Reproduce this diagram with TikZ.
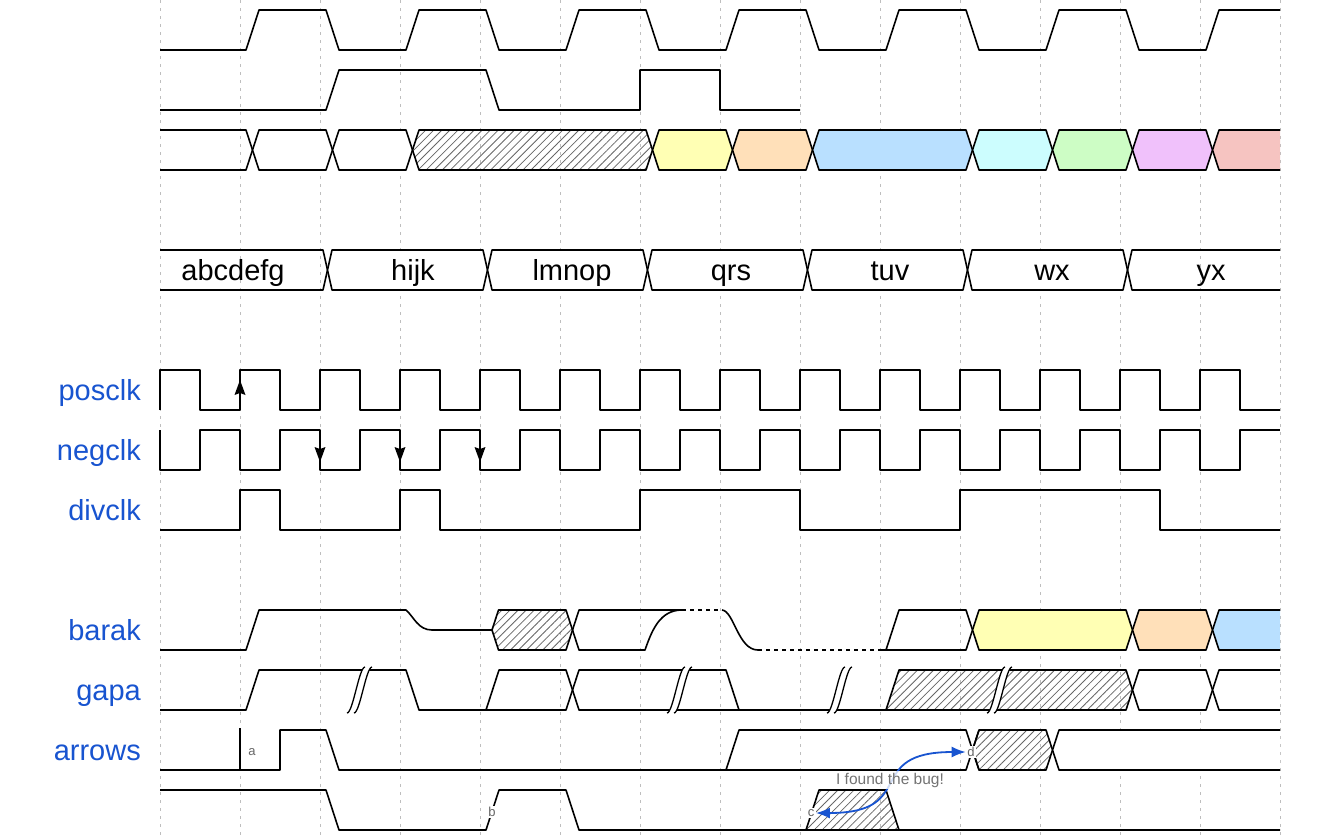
\documentclass[tikz,border=0pt]{standalone}
\usepackage{fontspec}
\setmainfont{Liberation Sans}
\usetikzlibrary{patterns.meta,arrows.meta}
\definecolor{wdblue}{RGB}{24,84,208}
\definecolor{gridgray}{RGB}{190,190,190}
\definecolor{cthree}{HTML}{FFFFB4}
\definecolor{cfour}{HTML}{FFE0B9}
\definecolor{cfive}{HTML}{B9E0FF}
\definecolor{csix}{HTML}{CCFDFE}
\definecolor{cseven}{HTML}{CDFDC5}
\definecolor{ceight}{HTML}{F0C1FB}
\definecolor{cnine}{HTML}{F6C4C1}
\tikzset{
  wline/.style={line width=1.6pt, line join=round},
  gridline/.style={gridgray, line width=1pt, dash pattern=on 3pt off 5pt},
  hatch/.style={pattern={Lines[angle=45,distance=5.7pt,line width=0.8pt]}, pattern color=black!60},
  dotline/.style={dash pattern=on 4pt off 4pt},
  siglabel/.style={anchor=base east, inner sep=0pt, text=wdblue, font=\fontsize{29}{32}\selectfont},
  datatext/.style={anchor=base, inner sep=0pt, font=\fontsize{29}{32}\selectfont},
  nodelabel/.style={fill=white, inner sep=1.5pt, text=black!60, font=\fontsize{13}{14}\selectfont},
  buglabel/.style={fill=white, fill opacity=0.8, text opacity=1, inner xsep=5pt, inner ysep=0pt, minimum height=18pt, text=black!55, font=\fontsize{15.5}{16}\selectfont},
  edgearrow/.style={wdblue, line width=1.8pt, {Latex[length=14pt,width=11pt]}-{Latex[length=14pt,width=11pt]}},
  clkarrow/.style={fill=black}
}
% general data segment: a, b, ytop, style, crossing offsets o1, o2
\newcommand\bseg[6]{\filldraw[wline,#4] ({#1+(#5+#6)/2},{#3+20}) -- ({#1+#6},#3) -- ({#2+#5},#3) -- ({#2+(#5+#6)/2},{#3+20}) -- ({#2+#5},{#3+40}) -- ({#1+#6},{#3+40}) -- cycle;}
\newcommand\hexseg[4]{\bseg{#1}{#2}{#3}{#4}{6}{19}}
% open-right segment starting at crossing a
\newcommand\openseg[3]{\fill[#3] (1280,#2) -- ({#1+19},#2) -- ({#1+12.5},{#2+20}) -- ({#1+19},{#2+40}) -- (1280,{#2+40}) -- cycle;
  \draw[wline] (1280,#2) -- ({#1+19},#2) -- ({#1+12.5},{#2+20}) -- ({#1+19},{#2+40}) -- (1280,{#2+40});}
% gap mark: x centre, y top
\newcommand\gapmark[2]{%
  \fill[white] ({#1-13},{#2+43}) .. controls ({#1-7},{#2+43}) and ({#1-1},{#2-3}) .. ({#1+5},{#2-3}) -- ({#1+12},{#2-3}) .. controls ({#1+6},{#2-3}) and ({#1},{#2+43}) .. ({#1-6},{#2+43}) -- cycle;
  \draw[wline,line width=1.3pt] ({#1-13},{#2+43}) .. controls ({#1-7},{#2+43}) and ({#1-1},{#2-3}) .. ({#1+5},{#2-3});
  \draw[wline,line width=1.3pt] ({#1-6},{#2+43}) .. controls ({#1},{#2+43}) and ({#1+6},{#2-3}) .. ({#1+12},{#2-3});}
\begin{document}
\begin{tikzpicture}[x=1pt,y=-1pt]
\useasboundingbox (0,0) rectangle (1317,838);
\fill[white] (0,0) rectangle (1317,838);
\foreach \g in {160,240,...,1280} \draw[gridline] (\g,0) -- (\g,838);

% ---- row 1
\draw[wline] (160,50) -- (246,50) -- (259,10) -- (326,10) -- (339,50) -- (406,50) -- (419,10) -- (486,10) -- (499,50) -- (566,50) -- (579,10) -- (646,10) -- (659,50) -- (726,50) -- (739,10) -- (806,10) -- (819,50) -- (886,50) -- (899,10) -- (966,10) -- (979,50) -- (1046,50) -- (1059,10) -- (1126,10) -- (1139,50) -- (1206,50) -- (1219,10) -- (1280,10);
% ---- row 2
\draw[wline] (160,110) -- (326,110) -- (339,70) -- (486,70) -- (499,110) -- (640,110) -- (640,70) -- (720,70) -- (720,110) -- (800,110);
% ---- row 3 bus
\draw[wline] (160,130) -- (246,130) -- (252.5,150) -- (246,170) -- (160,170);
\hexseg{240}{320}{130}{fill=white}
\hexseg{320}{400}{130}{fill=white}
\hexseg{400}{640}{130}{hatch}
\hexseg{640}{720}{130}{fill=cthree}
\hexseg{720}{800}{130}{fill=cfour}
\hexseg{800}{960}{130}{fill=cfive}
\hexseg{960}{1040}{130}{fill=csix}
\hexseg{1040}{1120}{130}{fill=cseven}
\hexseg{1120}{1200}{130}{fill=ceight}
\openseg{1200}{130}{cnine}
% ---- row 4 text bus
\draw[wline] (160,250) -- (323,250) -- (327.5,270) -- (323,290) -- (160,290);
\bseg{320}{480}{250}{fill=white}{3}{12}
\bseg{480}{640}{250}{fill=white}{3}{12}
\bseg{640}{800}{250}{fill=white}{3}{12}
\bseg{800}{960}{250}{fill=white}{3}{12}
\bseg{960}{1120}{250}{fill=white}{3}{12}
\draw[wline] (1280,250) -- (1132,250) -- (1127.5,270) -- (1132,290) -- (1280,290);
\node[datatext] (t1) at (233,280) {abcdefg};
\node[datatext] (t2) at (413,280) {hijk};
\node[datatext] (t3) at (572,280) {lmnop};
\node[datatext] (t4) at (731,280) {qrs};
\node[datatext] (t5) at (890,280) {tuv};
\node[datatext] (t6) at (1052,280) {wx};
\node[datatext] (t7) at (1211,280) {yx};

% ---- labels
\node[siglabel] (lpos) at (141,400) {posclk};
\node[siglabel] (lneg) at (141,460) {negclk};
\node[siglabel] (ldiv) at (141,520) {divclk};
\node[siglabel] (lbar) at (141,640) {barak};
\node[siglabel] (lgap) at (141,700) {gapa};
\node[siglabel] (larr) at (141,760) {arrows};

% ---- posclk
\draw[wline] (160,410) foreach \k in {160,240,...,1200} { -- (\k,370) -- (\k+40,370) -- (\k+40,410) -- (\k+80,410) };
\fill[clkarrow] (240,380) -- (245.5,395) -- (240,393) -- (234.5,395) -- cycle;
% ---- negclk
\draw[wline] (160,430) foreach \k in {160,240,...,1200} { -- (\k,470) -- (\k+40,470) -- (\k+40,430) -- (\k+80,430) };
\foreach \x in {320,400,480} \fill[clkarrow] (\x,462) -- (\x+5.5,447) -- (\x,449) -- (\x-5.5,447) -- cycle;
% ---- divclk
\draw[wline] (160,530) -- (240,530) -- (240,490) -- (280,490) -- (280,530) -- (400,530) -- (400,490) -- (440,490) -- (440,530) -- (640,530) -- (640,490) -- (800,490) -- (800,530) -- (960,530) -- (960,490) -- (1160,490) -- (1160,530) -- (1280,530);

% ---- barak
\draw[wline] (160,650) -- (246,650) -- (259,610) -- (406,610) .. controls (414,617) and (418,630) .. (432,630) -- (492,630);
\filldraw[wline,hatch] (492,630) -- (498.5,610) -- (566,610) -- (572.5,630) -- (566,650) -- (498.5,650) -- cycle;
\draw[wline] (572.5,630) -- (579,610) -- (682,610);
\draw[wline] (572.5,630) -- (579,650) -- (645,650) .. controls (652,630) and (660,610) .. (682,610);
\draw[wline,dotline] (682,610) -- (722,610);
\draw[wline] (722,610) .. controls (734,611) and (738,650) .. (758,650);
\draw[wline,dotline] (758,650) -- (880,650);
\draw[wline] (880,650) -- (886,650) -- (899,610) -- (966,610) -- (972.5,630) -- (966,650) -- (886,650);
\hexseg{960}{1120}{610}{fill=cthree}
\hexseg{1120}{1200}{610}{fill=cfour}
\openseg{1200}{610}{cfive}

% ---- gapa
\draw[wline] (160,710) -- (246,710) -- (259,670) -- (406,670) -- (419,710) -- (566,710) -- (579,670) -- (726,670) -- (739,710) -- (886,710);
\draw[wline] (486,710) -- (499,670) -- (566,670) -- (579,710) -- (739,710);
\filldraw[wline,hatch] (886,710) -- (899,670) -- (1126,670) -- (1132.5,690) -- (1126,710) -- cycle;
\hexseg{1120}{1200}{670}{fill=white}
\openseg{1200}{670}{white}
\gapmark{360}{670}
\gapmark{680}{670}
\gapmark{840}{670}
\gapmark{1000}{670}

% ---- arrows
\draw[wline] (160,770) -- (280,770) -- (280,730) -- (326,730) -- (339,770) -- (966,770) -- (979,730);
\draw[wline] (240,770) -- (240,728);
\draw[wline] (726,770) -- (739,730) -- (966,730) -- (979,770);
\hexseg{960}{1040}{730}{hatch}
\openseg{1040}{730}{white}

% ---- last row
\draw[wline] (160,790) -- (326,790) -- (339,830) -- (486,830) -- (499,790) -- (566,790) -- (579,830) -- (1280,830);
\filldraw[wline,hatch] (806,830) -- (819,790) -- (886,790) -- (899,830) -- cycle;

% ---- node labels and edge
\node[nodelabel] (na) at (252,752) {a};
\node[nodelabel] (nb) at (492,812) {b};
\node[nodelabel] (nc) at (811,813) {c};
\node[nodelabel] (nd) at (971,752) {d};
\draw[edgearrow] (nc.east) .. controls +(104,0) and +(-104,0) .. (nd.west);
\node[buglabel] (bug) at (890,780) {I found the bug!};
\end{tikzpicture}
\end{document}
